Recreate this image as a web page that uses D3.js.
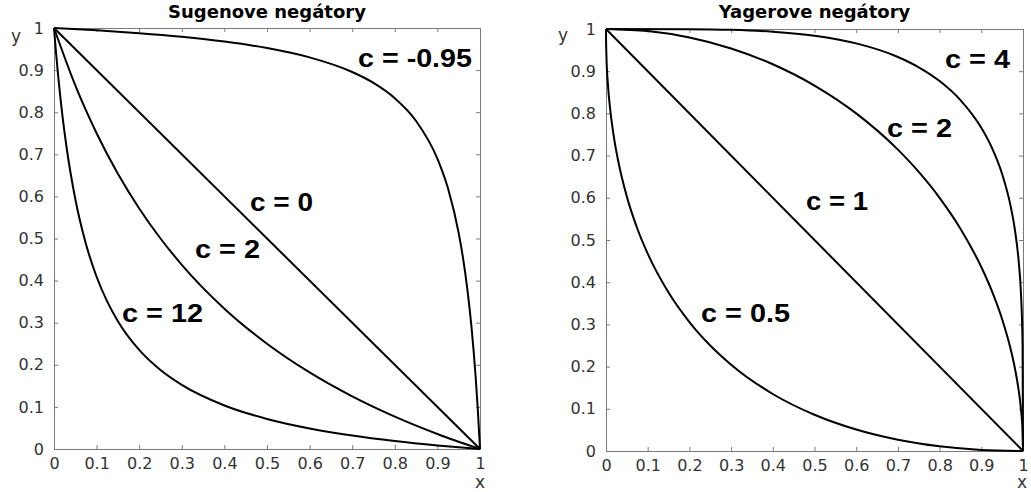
<!DOCTYPE html>
<html>
<head>
<meta charset="utf-8">
<script src="https://cdn.jsdelivr.net/npm/d3@7/dist/d3.min.js"></script>
<style>
  html, body { margin: 0; padding: 0; background: #fff; }
  svg { display: block; }
</style>
</head>
<body>
<svg id="chart" width="1031" height="492"></svg>
<script>
// ---------- DATA ----------
const tickValues = [0, 0.1, 0.2, 0.3, 0.4, 0.5, 0.6, 0.7, 0.8, 0.9, 1];
const tickLabels = ["0", "0.1", "0.2", "0.3", "0.4", "0.5", "0.6", "0.7", "0.8", "0.9", "1"];

const titles = ["Sugenove negátory", "Yagerove negátory"];

// Sugeno negators (left panel)
const sugenoLabels = ["c = -0.95", "c = 0", "c = 2", "c = 12"];
const sugenoX_neg095 = [0, 0.1, 0.2, 0.3, 0.4, 0.5, 0.6, 0.7, 0.75, 0.8, 0.85, 0.9, 0.925, 0.95, 0.96, 0.97, 0.98, 0.99, 0.995, 1];
const sugenoY_neg095 = [1, 0.9945, 0.9877, 0.979, 0.9677, 0.9524, 0.9302, 0.8955, 0.8696, 0.8333, 0.7792, 0.6897, 0.6186, 0.5128, 0.4545, 0.3822, 0.2899, 0.1681, 0.0913, 0];
const sugenoX_0 = [0, 1];
const sugenoY_0 = [1, 0];
const sugenoX_2 = [0, 0.05, 0.1, 0.15, 0.2, 0.25, 0.3, 0.4, 0.5, 0.6, 0.7, 0.8, 0.9, 1];
const sugenoY_2 = [1, 0.8636, 0.75, 0.6538, 0.5714, 0.5, 0.4375, 0.3333, 0.25, 0.1818, 0.125, 0.0769, 0.0357, 0];
const sugenoX_12 = [0, 0.005, 0.01, 0.02, 0.03, 0.05, 0.075, 0.1, 0.125, 0.15, 0.2, 0.25, 0.3, 0.4, 0.5, 0.6, 0.7, 0.8, 0.9, 1];
const sugenoY_12 = [1, 0.9387, 0.8839, 0.7903, 0.7132, 0.5938, 0.4868, 0.4091, 0.35, 0.3036, 0.2353, 0.1875, 0.1522, 0.1034, 0.0714, 0.0488, 0.0319, 0.0189, 0.0085, 0];

// Yager negators (right panel)
const yagerLabels = ["c = 0.5", "c = 1", "c = 2", "c = 4"];
const yagerX_05 = [0, 0.0001, 0.001, 0.005, 0.01, 0.02, 0.03, 0.05, 0.075, 0.1, 0.15, 0.2, 0.25, 0.3, 0.4, 0.5, 0.6, 0.7, 0.8, 0.9, 1];
const yagerY_05 = [1, 0.9801, 0.9377, 0.8636, 0.81, 0.7372, 0.6836, 0.6028, 0.5272, 0.4675, 0.3754, 0.3056, 0.25, 0.2046, 0.1351, 0.0858, 0.0508, 0.0267, 0.0111, 0.0026, 0];
const yagerX_1 = [0, 1];
const yagerY_1 = [1, 0];
const yagerX_2 = [0, 0.1, 0.2, 0.3, 0.4, 0.5, 0.6, 0.7, 0.75, 0.8, 0.85, 0.9, 0.925, 0.95, 0.97, 0.98, 0.99, 0.995, 0.999, 1];
const yagerY_2 = [1, 0.995, 0.9798, 0.9539, 0.9165, 0.866, 0.8, 0.7141, 0.6614, 0.6, 0.5268, 0.4359, 0.38, 0.3122, 0.2431, 0.199, 0.1411, 0.0999, 0.0447, 0];
const yagerX_4 = [0, 0.2, 0.3, 0.4, 0.5, 0.6, 0.7, 0.75, 0.8, 0.85, 0.9, 0.925, 0.95, 0.97, 0.98, 0.99, 0.995, 0.999, 1];
const yagerY_4 = [1, 0.9996, 0.998, 0.9935, 0.984, 0.9659, 0.9337, 0.9093, 0.8766, 0.8315, 0.7658, 0.7194, 0.6563, 0.582, 0.5278, 0.4455, 0.3756, 0.2514, 0];

// ---------- LAYOUT ----------
const svg = d3.select("#chart");
const axisColor = "#7a7a7a";
const textColor = "#333";

const panels = [
  {
    title: titles[0], left: 54, right: 480, top: 28, bottom: 449,
    curves: [
      {x: sugenoX_neg095, y: sugenoY_neg095},
      {x: sugenoX_0, y: sugenoY_0},
      {x: sugenoX_2, y: sugenoY_2},
      {x: sugenoX_12, y: sugenoY_12}
    ],
    labels: [
      {t: sugenoLabels[0], x: 358, y: 67, w: 114},
      {t: sugenoLabels[1], x: 250, y: 211, w: 63},
      {t: sugenoLabels[2], x: 195, y: 258, w: 65},
      {t: sugenoLabels[3], x: 122, y: 322, w: 81}
    ],
    ylab: {x: 16, y: 42}, xlab: {x: 480, y: 488}
  },
  {
    title: titles[1], left: 606, right: 1023, top: 29, bottom: 451,
    curves: [
      {x: yagerX_05, y: yagerY_05},
      {x: yagerX_1, y: yagerY_1},
      {x: yagerX_2, y: yagerY_2},
      {x: yagerX_4, y: yagerY_4}
    ],
    labels: [
      {t: yagerLabels[0], x: 701, y: 322, w: 89},
      {t: yagerLabels[1], x: 806, y: 210, w: 62},
      {t: yagerLabels[2], x: 887, y: 137, w: 65},
      {t: yagerLabels[3], x: 945, y: 68, w: 65}
    ],
    ylab: {x: 563, y: 41}, xlab: {x: 1022, y: 488}
  }
];

panels.forEach(p => {
  const x = d3.scaleLinear().domain([0, 1]).range([p.left, p.right]);
  const y = d3.scaleLinear().domain([0, 1]).range([p.bottom, p.top]);
  const g = svg.append("g");

  const fmt = (d) => tickLabels[tickValues.indexOf(d)];
  const axStyle = sel => {
    sel.select(".domain").attr("stroke", axisColor).attr("stroke-width", 1);
    sel.selectAll(".tick line").attr("stroke", axisColor).attr("stroke-width", 1);
    sel.selectAll(".tick text").attr("fill", textColor)
      .attr("font-family", "DejaVu Sans, sans-serif").attr("font-size", 16);
  };

  // bottom axis (ticks inside)
  g.append("g").attr("transform", `translate(0,${p.bottom})`)
    .call(d3.axisBottom(x).tickValues(tickValues).tickFormat(fmt).tickSizeInner(-4).tickSizeOuter(0).tickPadding(9))
    .call(axStyle);
  // top axis (ticks only)
  g.append("g").attr("transform", `translate(0,${p.top})`)
    .call(d3.axisTop(x).tickValues(tickValues).tickFormat("").tickSizeInner(-4).tickSizeOuter(0))
    .call(axStyle);
  // left axis
  g.append("g").attr("transform", `translate(${p.left},0)`)
    .call(d3.axisLeft(y).tickValues(tickValues).tickFormat(fmt).tickSizeInner(-4).tickSizeOuter(0).tickPadding(10))
    .call(axStyle);
  // right axis (ticks only)
  g.append("g").attr("transform", `translate(${p.right},0)`)
    .call(d3.axisRight(y).tickValues(tickValues).tickFormat("").tickSizeInner(-4).tickSizeOuter(0))
    .call(axStyle);

  // curves
  const line = d3.line().x(d => x(d[0])).y(d => y(d[1])).curve(d3.curveMonotoneX);
  p.curves.forEach(c => {
    const pts = c.x.map((v, i) => [v, c.y[i]]);
    g.append("path").attr("d", line(pts))
      .attr("fill", "none").attr("stroke", "#000").attr("stroke-width", 2)
      .attr("stroke-linejoin", "round");
  });

  // curve labels
  p.labels.forEach(l => {
    g.append("text").attr("x", l.x).attr("y", l.y).text(l.t)
      .attr("font-family", "Liberation Sans, Arial, sans-serif")
      .attr("font-weight", "bold").attr("font-size", 25)
      .attr("textLength", l.w).attr("lengthAdjust", "spacingAndGlyphs")
      .attr("fill", "#000");
  });

  // title
  g.append("text").attr("x", (p.left + p.right) / 2).attr("y", 18)
    .attr("text-anchor", "middle").text(p.title)
    .attr("font-family", "DejaVu Sans, sans-serif").attr("font-weight", "bold")
    .attr("font-size", 18).attr("fill", "#000");

  // axis labels
  g.append("text").attr("x", p.ylab.x).attr("y", p.ylab.y).attr("text-anchor", "middle")
    .text("y").attr("font-family", "DejaVu Sans, sans-serif").attr("font-size", 17).attr("fill", textColor);
  g.append("text").attr("x", p.xlab.x).attr("y", p.xlab.y).attr("text-anchor", "middle")
    .text("x").attr("font-family", "DejaVu Sans, sans-serif").attr("font-size", 17).attr("fill", textColor);
});
</script>
</body>
</html>
